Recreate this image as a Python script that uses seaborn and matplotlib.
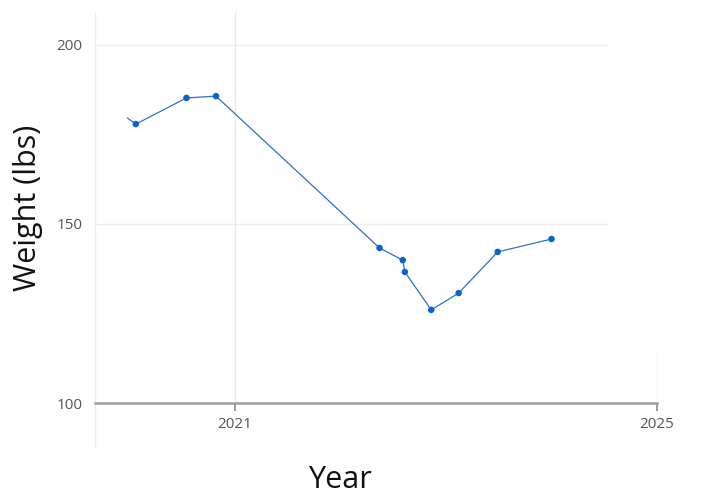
import matplotlib
matplotlib.use("Agg")
import matplotlib.pyplot as plt
import seaborn as sns
import pandas as pd
from matplotlib.lines import Line2D

# data (decimal year, weight in lbs)
anos = [2019.98, 2020.06, 2020.54, 2020.82, 2022.37, 2022.59, 2022.61,
        2022.86, 2023.12, 2023.49, 2024.00]
pesos = [179.6, 177.9, 185.2, 185.7, 143.3, 139.9, 136.6,
         126.0, 130.7, 142.2, 145.8]
marcado = [False, True, True, True, True, True, True, True, True, True, True]

tabela = pd.DataFrame({"ano": anos, "peso": pesos, "marcado": marcado})

sns.set_style("white")
plt.rcParams['font.family'] = ['Open Sans', 'DejaVu Sans']

fig = plt.figure(figsize=(7.08, 4.99), dpi=100)
ax = fig.add_axes([95/708, 96/499, 562/708, 391/499])

sns.lineplot(data=tabela, x="ano", y="peso", sort=False, color="#2a72c9",
             linewidth=0.9, ax=ax)
sns.scatterplot(data=tabela[tabela["marcado"]], x="ano", y="peso",
                color="#0a64c8", s=22, edgecolor="none", ax=ax, zorder=3)

ax.set_xlim(2019.673, 2025)
ax.set_ylim(100, 209.2)
ax.set_xticks([2021, 2025])
ax.set_yticks([100, 150, 200])

# gridlines
for v in [150, 200]:
    ax.axhline(v, xmin=0, xmax=(608-95)/562, color="#eeeeee", lw=1, zorder=0)
ax.axvline(2021, color="#e8e8e8", lw=1, zorder=0)
ax.axvline(2025, ymin=0, ymax=(403-348)/391, color="#e8e8e8", lw=1, zorder=0)
ax.add_line(Line2D([0, 0], [-45/391, 1], transform=ax.transAxes, color="#eeeeee",
                   lw=1, clip_on=False))

for s in ["top", "right", "left"]:
    ax.spines[s].set_visible(False)
ax.spines["bottom"].set_color("#9e9e9e")
ax.spines["bottom"].set_linewidth(1.8)

ax.tick_params(axis="x", bottom=True, direction="out", length=6, width=1.5,
               color="#9e9e9e", labelsize=11, labelcolor="#555555", pad=4)
ax.tick_params(axis="y", left=False, length=0, labelsize=11,
               labelcolor="#555555", pad=9)

ax.set_xlabel("Year", fontsize=22, color="#111111", va="center")
ax.set_ylabel("Weight (lbs)", fontsize=22, color="#111111", va="center")
ax.xaxis.set_label_coords((340-95)/562, -(480-403)/391)
ax.yaxis.set_label_coords((28-95)/562, (403-208)/391)

plt.savefig("out.png", dpi=100)
